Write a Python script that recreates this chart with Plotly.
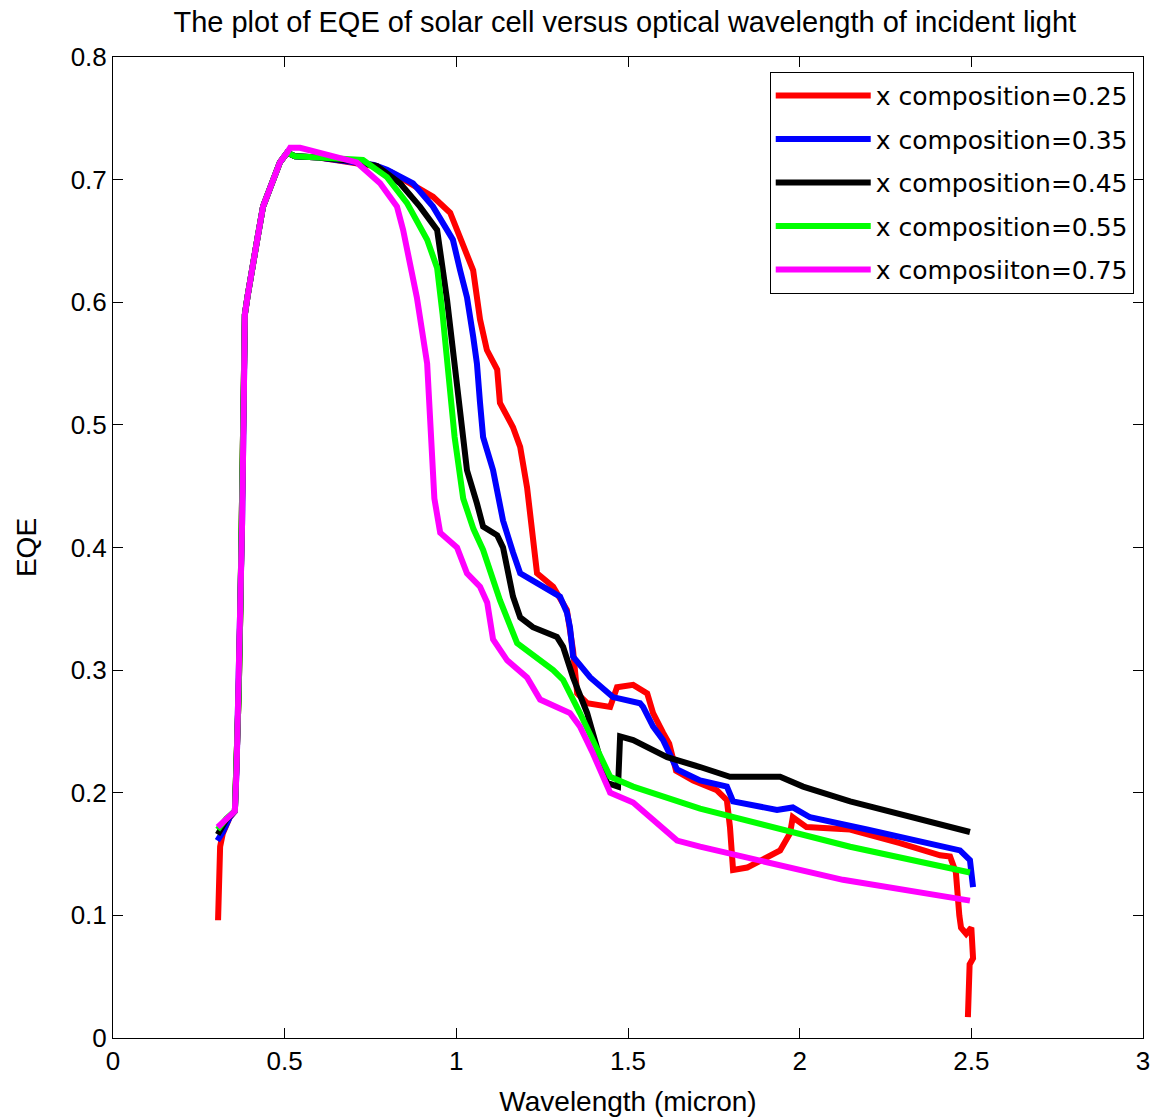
import plotly.graph_objects as go

# Shared rising edge (all curves overlap here)
RISE_X = [0.355, 0.360, 0.366, 0.371, 0.376, 0.380, 0.384, 0.392, 0.405, 0.420, 0.437, 0.457, 0.486, 0.507]
RISE_Y = [0.185, 0.220, 0.280, 0.350, 0.420, 0.500, 0.590, 0.605, 0.630, 0.651, 0.678, 0.694, 0.714, 0.722]

# x composition = 0.25 (red)
RED_START_X = [0.306, 0.309, 0.312, 0.320, 0.340]
RED_START_Y = [0.096, 0.123, 0.156, 0.167, 0.180]
RED_X = [0.530, 0.600, 0.700, 0.760, 0.810, 0.865, 0.932, 0.982, 1.020, 1.049, 1.069, 1.089, 1.119,
         1.127, 1.165, 1.186, 1.206, 1.223, 1.235, 1.282, 1.293, 1.322, 1.340, 1.352, 1.381, 1.448,
         1.468, 1.515, 1.556, 1.573, 1.602, 1.620, 1.640, 1.690, 1.759, 1.788, 1.797, 1.806, 1.847,
         1.943, 1.972, 1.980, 2.020, 2.147, 2.292, 2.409, 2.438, 2.455, 2.465, 2.470, 2.485, 2.500,
         2.505, 2.495, 2.490]
RED_Y = [0.719, 0.718, 0.714, 0.711, 0.706, 0.697, 0.686, 0.673, 0.648, 0.626, 0.586, 0.561, 0.545,
         0.518, 0.498, 0.482, 0.449, 0.409, 0.379, 0.368, 0.363, 0.349, 0.316, 0.281, 0.273, 0.270,
         0.286, 0.288, 0.281, 0.265, 0.249, 0.240, 0.218, 0.210, 0.202, 0.194, 0.172, 0.137, 0.139,
         0.153, 0.167, 0.180, 0.172, 0.170, 0.159, 0.149, 0.148, 0.135, 0.100, 0.090, 0.085, 0.090,
         0.065, 0.060, 0.017]

# x composition = 0.35 (blue)
BLUE_START_X = [0.304, 0.320, 0.340]
BLUE_START_Y = [0.161, 0.168, 0.180]
BLUE_X = [0.530, 0.600, 0.700, 0.760, 0.798, 0.874, 0.932, 0.990, 1.011, 1.031, 1.049, 1.060, 1.069,
          1.078, 1.107, 1.136, 1.165, 1.186, 1.235, 1.302, 1.322, 1.331, 1.340, 1.390, 1.456, 1.535,
          1.544, 1.573, 1.602, 1.631, 1.643, 1.710, 1.777, 1.788, 1.806, 1.934, 1.980, 2.030, 2.196,
          2.467, 2.496, 2.505]
BLUE_Y = [0.719, 0.718, 0.715, 0.712, 0.708, 0.697, 0.678, 0.651, 0.626, 0.604, 0.572, 0.550, 0.518,
          0.490, 0.463, 0.422, 0.396, 0.379, 0.371, 0.360, 0.347, 0.335, 0.311, 0.294, 0.278, 0.273,
          0.270, 0.254, 0.243, 0.224, 0.219, 0.210, 0.205, 0.205, 0.193, 0.186, 0.188, 0.180, 0.170,
          0.153, 0.145, 0.123]

# x composition = 0.45 (black)
BLACK_START_X = [0.305, 0.330]
BLACK_START_Y = [0.166, 0.178]
BLACK_X = [0.530, 0.600, 0.700, 0.769, 0.836, 0.894, 0.944, 0.973, 0.990, 1.005, 1.031, 1.060, 1.078,
           1.119, 1.136, 1.165, 1.186, 1.223, 1.293, 1.311, 1.340, 1.381, 1.439, 1.471, 1.477, 1.515,
           1.614, 1.710, 1.797, 1.943, 2.010, 2.147, 2.496]
BLACK_Y = [0.719, 0.718, 0.715, 0.711, 0.697, 0.678, 0.659, 0.602, 0.560, 0.520, 0.463, 0.436, 0.417,
           0.410, 0.400, 0.360, 0.343, 0.335, 0.327, 0.319, 0.294, 0.265, 0.208, 0.205, 0.246, 0.243,
           0.229, 0.221, 0.213, 0.213, 0.205, 0.193, 0.168]

# x composition = 0.55 (green)
GREEN_START_X = [0.305, 0.330]
GREEN_START_Y = [0.170, 0.179]
GREEN_X = [0.530, 0.600, 0.700, 0.728, 0.798, 0.856, 0.915, 0.944, 0.960, 0.978, 0.995, 1.020, 1.050,
           1.078, 1.127, 1.177, 1.282, 1.311, 1.360, 1.448, 1.515, 1.710, 2.147, 2.496]
GREEN_Y = [0.719, 0.718, 0.716, 0.716, 0.702, 0.681, 0.651, 0.628, 0.590, 0.540, 0.490, 0.440, 0.415,
           0.398, 0.357, 0.322, 0.300, 0.292, 0.265, 0.213, 0.205, 0.187, 0.156, 0.135]

# x composition = 0.75 (magenta)
MAG_START_X = [0.305, 0.320, 0.340]
MAG_START_Y = [0.172, 0.176, 0.181]
MAG_X = [0.516, 0.545, 0.600, 0.650, 0.710, 0.778, 0.827, 0.845, 0.885, 0.915, 0.926, 0.936, 0.953,
         1.002, 1.031, 1.069, 1.090, 1.107, 1.148, 1.206, 1.244, 1.331, 1.360, 1.398, 1.448, 1.515,
         1.573, 1.643, 1.710, 2.126, 2.496]
MAG_Y = [0.726, 0.726, 0.722, 0.719, 0.714, 0.697, 0.678, 0.659, 0.604, 0.550, 0.500, 0.440, 0.412,
         0.400, 0.379, 0.368, 0.355, 0.325, 0.308, 0.294, 0.276, 0.265, 0.254, 0.232, 0.200, 0.192,
         0.178, 0.161, 0.156, 0.129, 0.112]

LABELS = ["x composition=0.25", "x composition=0.35", "x composition=0.45",
          "x composition=0.55", "x composiiton=0.75"]
COLORS = ["#ff0000", "#0000ff", "#000000", "#00ff00", "#ff00ff"]

SERIES = [
    (RED_START_X + RISE_X + RED_X, RED_START_Y + RISE_Y + RED_Y),
    (BLUE_START_X + RISE_X + BLUE_X, BLUE_START_Y + RISE_Y + BLUE_Y),
    (BLACK_START_X + RISE_X + BLACK_X, BLACK_START_Y + RISE_Y + BLACK_Y),
    (GREEN_START_X + RISE_X + GREEN_X, GREEN_START_Y + RISE_Y + GREEN_Y),
    (MAG_START_X + RISE_X + MAG_X, MAG_START_Y + RISE_Y + MAG_Y),
]

fig = go.Figure()
for i, ((xs, ys), name, col) in enumerate(zip(SERIES, LABELS, COLORS)):
    fig.add_trace(go.Scatter(x=xs, y=ys, mode="lines", name=name, legendgroup=str(i),
                             line=dict(color=col, width=6)))

axis_common = dict(showline=True, linecolor="black", linewidth=1, mirror="ticks",
                   ticks="inside", ticklen=10, tickwidth=1, tickcolor="black",
                   showgrid=False, zeroline=False, automargin=False,
                   tickfont=dict(family="Liberation Sans, Arial", size=26, color="black"))

fig.update_layout(
    width=1157, height=1120,
    margin=dict(l=113, r=14, t=57, b=82),
    paper_bgcolor="white", plot_bgcolor="white",
    title=dict(text="The plot of EQE of solar cell versus optical wavelength of incident light",
               x=0.54, xanchor="center", y=1 - 22 / 1120, yanchor="middle", yref="container",
               font=dict(family="Liberation Sans, Arial", size=29, color="black")),
    xaxis=dict(range=[0, 3], tickvals=[0, 0.5, 1, 1.5, 2, 2.5, 3],
               ticktext=["0", "0.5", "1", "1.5", "2", "2.5", "3"],
               title=dict(text="Wavelength (micron)", standoff=16,
                          font=dict(family="Liberation Sans, Arial", size=28, color="black")),
               **axis_common),
    yaxis=dict(range=[0, 0.8], tickvals=[0, 0.1, 0.2, 0.3, 0.4, 0.5, 0.6, 0.7, 0.8],
               ticktext=["0", "0.1", "0.2", "0.3", "0.4", "0.5", "0.6", "0.7", "0.8"],
               title=dict(text="EQE", standoff=25,
                          font=dict(family="Liberation Sans, Arial", size=28, color="black")),
               **axis_common),
    legend=dict(x=0.991, y=0.985, xanchor="right", yanchor="top",
                bgcolor="white", bordercolor="black", borderwidth=1,
                font=dict(family="DejaVu Sans", size=25, color="black"),
                itemwidth=95, tracegroupgap=8, traceorder="grouped"),
    showlegend=True,
)

fig.write_html("out.html")
